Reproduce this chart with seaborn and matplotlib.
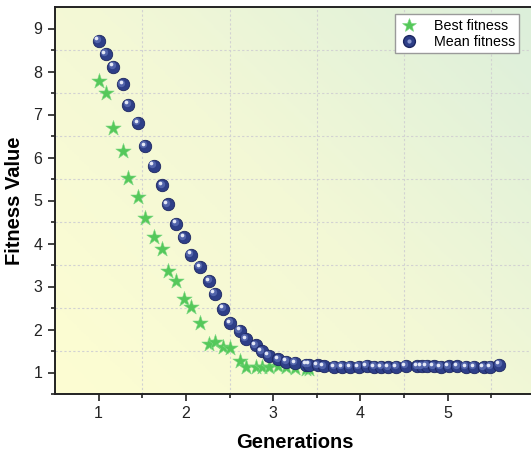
import matplotlib
matplotlib.use("Agg")
import matplotlib.pyplot as plt
import matplotlib.transforms as mtransforms
from matplotlib.colors import LinearSegmentedColormap
from matplotlib.legend_handler import HandlerTuple
from matplotlib.lines import Line2D
import numpy as np
import seaborn as sns

generations = [1.00, 1.08, 1.17, 1.28, 1.34, 1.45, 1.53, 1.63, 1.73, 1.79,
               1.89, 1.98, 2.06, 2.16, 2.27, 2.33, 2.43, 2.51, 2.62, 2.69,
               2.80, 2.87, 2.95, 3.06, 3.15, 3.25, 3.38, 3.41, 3.51, 3.58,
               3.70, 3.79, 3.88, 3.98, 4.07, 4.16, 4.24, 4.32, 4.41, 4.52,
               4.65, 4.70, 4.76, 4.84, 4.92, 5.01, 5.11, 5.21, 5.30, 5.41,
               5.49, 5.59]
mean_fitness = [8.72, 8.41, 8.11, 7.70, 7.23, 6.80, 6.27, 5.81, 5.35, 4.91,
                4.46, 4.14, 3.74, 3.45, 3.13, 2.83, 2.48, 2.15, 1.97, 1.78,
                1.63, 1.49, 1.39, 1.31, 1.25, 1.22, 1.18, 1.18, 1.17, 1.14,
                1.13, 1.13, 1.13, 1.13, 1.15, 1.13, 1.13, 1.12, 1.13, 1.15,
                1.14, 1.14, 1.15, 1.14, 1.13, 1.14, 1.14, 1.13, 1.13, 1.12,
                1.13, 1.18]
best_fitness = [7.79, 7.50, 6.68, 6.14, 5.53, 5.07, 4.59, 4.16, 3.87, 3.37,
                3.13, 2.71, 2.52, 2.15, 1.67, 1.70, 1.60, 1.56, 1.27, 1.12,
                1.12, 1.12, 1.12, 1.15, 1.12, 1.11, 1.09, 1.09]

x_ticks = [1, 2, 3, 4, 5, 6]
y_ticks = [1, 2, 3, 4, 5, 6, 7, 8, 9]

plt.rcParams["font.family"] = ["Liberation Sans", "DejaVu Sans"]

fig = plt.figure(figsize=(5.31, 4.55), dpi=100)
ax = fig.add_axes([55 / 531, 1 - 394 / 455, 480 / 531, 387 / 455])

# background gradient, yellow bottom-left to pale green top-right
cmap = LinearSegmentedColormap.from_list("bg", ["#fdfdd2", "#f3f8d6", "#dcefdb"])
gx, gy = np.meshgrid(np.linspace(0, 1, 200), np.linspace(0, 1, 200))
ax.imshow((gx * 0.55 + gy * 0.45), cmap=cmap, origin="lower", aspect="auto",
          extent=[0, 1, 0, 1], transform=ax.transAxes, zorder=0)

star_green = "#55c85a"
blue = "#2e3f88"

sns.scatterplot(x=generations[:len(best_fitness)], y=best_fitness, marker="*",
                s=135, color=star_green, edgecolor="#7fd884", linewidth=0.4,
                ax=ax, zorder=3)

# spheres: base circle plus shifted highlights
sns.scatterplot(x=generations, y=mean_fitness, marker="o", s=80, color=blue,
                edgecolor="#1c2660", linewidth=0.6, ax=ax, zorder=4)
shift = mtransforms.ScaledTranslation(-1.2 / 72, 1.2 / 72, fig.dpi_scale_trans)
ax.scatter(generations, mean_fitness, s=28, color="#5264aa", linewidth=0,
           transform=ax.transData + shift, zorder=5)
shift2 = mtransforms.ScaledTranslation(-1.7 / 72, 1.7 / 72, fig.dpi_scale_trans)
ax.scatter(generations, mean_fitness, s=7, color="#e4e8f7", linewidth=0,
           transform=ax.transData + shift2, zorder=6)

ax.set_xlim(0.5, 6.0)
ax.set_ylim(0.5, 9.5)
ax.set_xticks(x_ticks)
ax.set_yticks(y_ticks)
ax.set_xticks(np.array(x_ticks[:-1]) + 0.5, minor=True)
ax.set_yticks(np.array(y_ticks) - 0.5, minor=True)
ax.grid(which="minor", linestyle=(0, (2, 2)), color="#d2d2d2", linewidth=0.8)
ax.grid(which="major", visible=False)
ax.set_axisbelow(True)

for side in ["left", "bottom", "top"]:
    ax.spines[side].set_color("#222222")
    ax.spines[side].set_linewidth(1.4)
ax.spines["right"].set_visible(False)

ax.tick_params(which="major", direction="out", length=5, width=1.2,
               labelsize=11.5, color="#222222", labelcolor="#222222",
               top=False, right=False, pad=4)
ax.tick_params(which="minor", direction="out", length=3, width=1.2,
               color="#222222", top=False, right=False)

ax.set_xlabel("Generations", fontsize=14.5, fontweight="bold", labelpad=8)
ax.set_ylabel("Fitness Value", fontsize=14.5, fontweight="bold", labelpad=7)

h_best = Line2D([], [], marker="*", linestyle="none", markersize=10.5,
                color=star_green, markeredgecolor="#7fd884", markeredgewidth=0.4)
h_mean = Line2D([], [], marker="o", linestyle="none", markersize=8.5,
                color=blue, markeredgecolor="#1c2660")
h_mean_hi = Line2D([], [], marker="o", linestyle="none", markersize=3,
                   color="#8c9ad0", markeredgewidth=0)
leg = ax.legend([h_best, (h_mean, h_mean_hi)], ["Best fitness", "Mean fitness"],
                handler_map={tuple: HandlerTuple(ndivide=1)},
                loc="upper right", bbox_to_anchor=(0.967, 0.981), fontsize=10.3,
                fancybox=False, framealpha=1, edgecolor="#9a9a9a",
                handlelength=1.4, handletextpad=1.0, borderpad=0.3,
                labelspacing=0.15, borderaxespad=0)
leg.get_frame().set_linewidth(1.0)

fig.savefig("out.png", dpi=100)
